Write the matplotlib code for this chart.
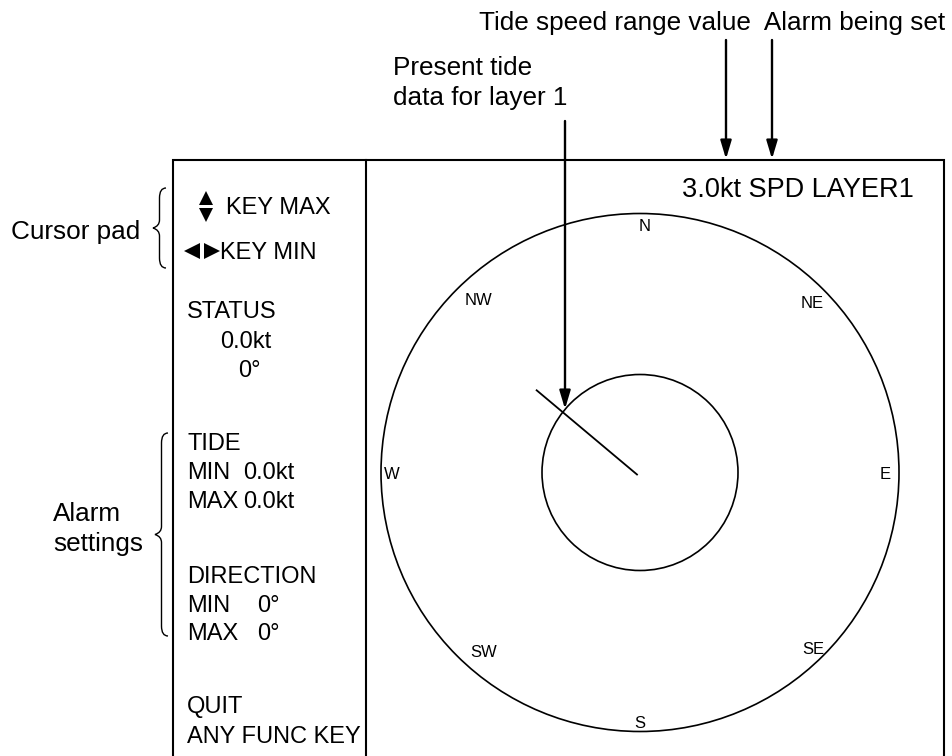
import numpy as np
import matplotlib
matplotlib.use("Agg")
import matplotlib.pyplot as plt
from matplotlib.patches import Circle, PathPatch
from matplotlib.path import Path

plt.rcParams['font.family'] = ['Liberation Sans', 'DejaVu Sans']

# ---- data ----
compass_labels = ["N", "NE", "E", "SE", "S", "SW", "W", "NW"]
status_title = "STATUS"
status_speed = "0.0kt"
status_dir = "0\u00b0"
tide_title = "TIDE"
tide_min = "0.0kt"
tide_max = "0.0kt"
dir_title = "DIRECTION"
dir_min = "0\u00b0"
dir_max = "0\u00b0"
quit_lines = ["QUIT", "ANY FUNC KEY"]
key_lines = ["KEY MAX", "KEY MIN"]
header_text = "3.0kt SPD LAYER1"
callouts = ["Tide speed range value", "Alarm being set", "Present tide", "data for layer 1"]
side_labels = ["Cursor pad", "Alarm", "settings"]
tide_vector_bearing = 310   # drawn bearing of the present tide line (deg)

W, H = 952, 756
fig = plt.figure(figsize=(W / 100, H / 100), dpi=100)
ax = fig.add_axes([0, 0, 1, 1])
ax.set_xlim(0, W)
ax.set_ylim(H, 0)
ax.axis('off')

lw_box = 1.5
fs = 17       # menu text
fs_c = 18.8   # callout text

# outer box (no bottom edge)
ax.plot([173, 173, 944, 944], [H + 5, 160, 160, H + 5], color='black', lw=lw_box,
        solid_joinstyle='miter')
ax.plot([366, 366], [160, H + 5], color='black', lw=lw_box)

# compass circles
cx, cy, R, r = 640, 472.5, 259, 98
ax.add_patch(Circle((cx, cy), R, fill=False, lw=1.2, color='black'))
ax.add_patch(Circle((cx, cy), r, fill=False, lw=1.2, color='black'))
label_pos = {"N": (645, 225), "NE": (812, 302), "E": (885, 473), "SE": (813, 648),
             "S": (640, 722), "SW": (484, 651), "W": (392, 473), "NW": (479, 299)}
for lab in compass_labels:
    x, y = label_pos[lab]
    ax.text(x, y + 6, lab, fontsize=12, ha='center', va='baseline')

# tide vector line
a = np.deg2rad(tide_vector_bearing)
L = 131
ax.plot([cx - 3, cx - 3 + L * np.sin(a)], [cy + 2, cy + 2 - L * np.cos(a)],
        color='black', lw=1.3)

# header in box
ax.text(914, 197, header_text, fontsize=19.5, ha='right', va='baseline')

# cursor pad keys
ax.plot([206], [198], marker='^', color='black', ms=10, mew=0)
ax.plot([206], [215], marker='v', color='black', ms=10, mew=0)
ax.text(226, 214, key_lines[0], fontsize=fs, ha='left', va='baseline')
ax.plot([192], [251], marker='<', color='black', ms=12, mew=0)
ax.plot([212], [251], marker='>', color='black', ms=12, mew=0)
ax.text(220, 259, key_lines[1], fontsize=fs, ha='left', va='baseline')

# left menu
xl = 187
def t(x, y, s):
    ax.text(x, y, s, fontsize=fs, ha='left', va='baseline')

t(xl, 318, status_title)
t(220, 348, status_speed)
t(238, 377, status_dir)
t(xl, 450, tide_title)
t(xl, 479, "MIN")
t(243, 479, tide_min)
t(xl, 508, "MAX")
t(243, 508, tide_max)
t(xl, 583, dir_title)
t(xl, 612, "MIN")
t(257, 612, dir_min)
t(xl, 640, "MAX")
t(257, 640, dir_max)
t(xl, 713, quit_lines[0])
t(xl, 743, quit_lines[1])

# braces
def brace(x_tip, x_back, y_top, y_bot):
    ym = (y_top + y_bot) / 2
    xm = (x_tip + x_back) / 2
    verts = [(x_back, y_top), (xm, y_top), (xm, y_top + 10),
             (xm, ym - 8),
             (xm, ym - 2), (x_tip, ym),
             (xm, ym + 2), (xm, ym + 8),
             (xm, y_bot - 10),
             (xm, y_bot), (x_back, y_bot)]
    codes = [Path.MOVETO, Path.CURVE3, Path.CURVE3,
             Path.LINETO,
             Path.CURVE3, Path.CURVE3,
             Path.CURVE3, Path.CURVE3,
             Path.LINETO,
             Path.CURVE3, Path.CURVE3]
    ax.add_patch(PathPatch(Path(verts, codes), fill=False, lw=1.0, color='black'))

brace(153, 166, 188, 268)
brace(155, 168, 433, 636)

ax.text(11, 239, side_labels[0], fontsize=fs_c, ha='left', va='baseline')
ax.text(53, 521, side_labels[1], fontsize=fs_c, ha='left', va='baseline')
ax.text(53, 551, side_labels[2], fontsize=fs_c, ha='left', va='baseline')

# callouts
ax.text(945, 30, callouts[0] + "  " + callouts[1], fontsize=fs_c, ha='right', va='baseline')
ax.text(393, 75, callouts[2], fontsize=fs_c, ha='left', va='baseline')
ax.text(393, 105, callouts[3], fontsize=fs_c, ha='left', va='baseline')

arrow_kw = dict(arrowstyle='-|>,head_length=1.1,head_width=0.33', color='black', lw=1.7,
                shrinkA=0, shrinkB=0)
ax.annotate("", xy=(726, 159), xytext=(726, 40), arrowprops=arrow_kw)
ax.annotate("", xy=(772, 159), xytext=(772, 40), arrowprops=arrow_kw)
ax.annotate("", xy=(565, 409), xytext=(565, 121), arrowprops=arrow_kw)

fig.savefig("out.png", dpi=100)
